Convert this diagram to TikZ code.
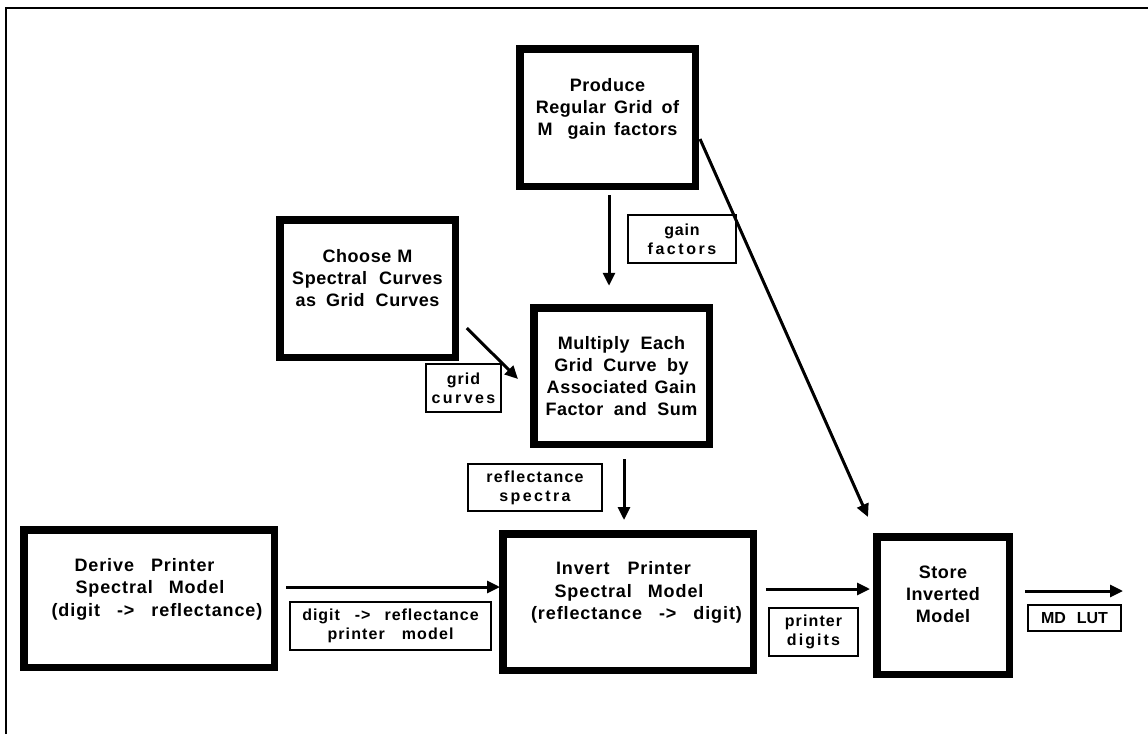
\documentclass[tikz,border=0pt]{standalone}
\usepackage{fontspec}
\setmainfont{Liberation Sans}
\newfontfamily\mainf[LetterSpace=3]{Liberation Sans}
\newfontfamily\widef[LetterSpace=5]{Liberation Sans}
\newfontfamily\lblf{Liberation Sans}
\usetikzlibrary{arrows.meta}
\newcommand\procfont{\mainf\bfseries\fontsize{18}{22}\selectfont}
\newcommand\widefont{\widef\bfseries\fontsize{18}{22.5}\selectfont}
\newcommand\lblfont{\lblf\bfseries\fontsize{16}{19}\selectfont}
\newcommand\g[1]{\hspace*{#1pt}}
\newcommand\ls[2]{{\addfontfeature{LetterSpace=#1}#2}}
\begin{document}
\begin{tikzpicture}[x=1pt,y=-1pt,
  procbox/.style={draw,line width=7.5pt,outer sep=0pt,inner sep=0pt,align=center,font=\procfont},
  widebox/.style={procbox,font=\widefont},
  lblbox/.style={draw,line width=1.8pt,outer sep=0pt,inner sep=0pt,align=center,font=\lblfont},
  arr/.style={line width=3pt,-{Triangle[length=13pt,width=12pt]}}]
\useasboundingbox (0,0) rectangle (1148,734);
\draw[line width=2pt] (6,734) -- (6,8) -- (1148,8);
% process boxes
\node[procbox,minimum width=175.5pt,minimum height=137.5pt] (produce) at (607.5,117.5)
  {Produce\\Regular\g{8}Grid\g{9}of\\M\g{15}gain\g{8}factors\\\mbox{}};
\node[procbox,minimum width=175.5pt,minimum height=137.5pt] (choose) at (367.5,288.5)
  {Choose\g{6}M\\Spectral\g{12}Curves\\as\g{10}Grid\g{11}Curves\\\mbox{}};
\node[procbox,minimum width=175.5pt,minimum height=136.5pt] (multiply) at (621.5,376)
  {Multiply\g{11}Each\\Grid\g{10.5}Curve\g{10.5}by\\Associated\g{7}Gain\\Factor\g{10.5}and\g{10.5}Sum};
\node[widebox,minimum width=250.5pt,minimum height=137.5pt] (derive) at (149,598.5)
  {Derive\g{17}Printer\g{9}\\\g{2}Spectral\g{16}Model\\\g{16}(digit\g{17}->\g{17}reflectance)\\\mbox{}};
\node[widebox,minimum width=250.5pt,minimum height=136.5pt] (invert) at (628,602)
  {Invert\g{18}Printer\g{9}\\\g{2}Spectral\g{16}Model\\\g{17}(reflectance\g{17}->\g{17}digit)\\\mbox{}};
\node[procbox,minimum width=132.5pt,minimum height=137.5pt] (store) at (943,605.5)
  {Store\\Inverted\\Model\\\mbox{}};
% label boxes
\node[lblbox,minimum width=108.2pt,minimum height=48.2pt] (gainlbl) at (682,239)
  {\ls{5}{gain}\\\ls{16}{factors}};
\node[lblbox,minimum width=75.2pt,minimum height=48.2pt] (gridlbl) at (463.5,388)
  {\ls{6}{grid}\\\ls{15}{curves}};
\node[lblbox,minimum width=134.2pt,minimum height=47.2pt] (refllbl) at (535,487.5)
  {\ls{8}{reflectance}\\\ls{15}{spectra}};
\node[lblbox,minimum width=201.2pt,minimum height=48.2pt] (dlbl) at (390.5,626)
  {\ls{6}{digit\g{15}->\g{14}reflectance}\\\ls{7}{printer\g{17}model}};
\node[lblbox,minimum width=89.2pt,minimum height=48.2pt] (pdlbl) at (813.5,632)
  {\ls{7}{printer}\\\ls{13}{digits}};
\node[lblbox,minimum width=93.2pt,minimum height=26.2pt] (mdlbl) at (1074.5,618)
  {MD\g{11}LUT};
\coordinate (out) at (1123,591);
% connectors
\draw[arr] ([shift={(1.5,8.75)}]produce.south) -- ([shift={(-12.5,-22)}]multiply.north);
\draw[arr] ([shift={(11.5,39.5)}]choose.east) -- ([shift={(-15.75,3)}]multiply.west);
\draw[arr] ([shift={(2.5,14.75)}]multiply.south) -- ([shift={(-4,-13.75)}]invert.north);
\draw[arr] ([shift={(4.75,21.5)}]produce.east) -- ([shift={(-75,-19.75)}]store.north);
\draw[arr] ([shift={(11.75,-11.5)}]derive.east) -- ([shift={(-2.75,-15)}]invert.west);
\draw[arr] ([shift={(12.5,-13)}]invert.east) -- ([shift={(-6.75,-16.5)}]store.west);
\draw[arr] ([shift={(15.75,-14.5)}]store.east) -- (out);
\end{tikzpicture}
\end{document}
